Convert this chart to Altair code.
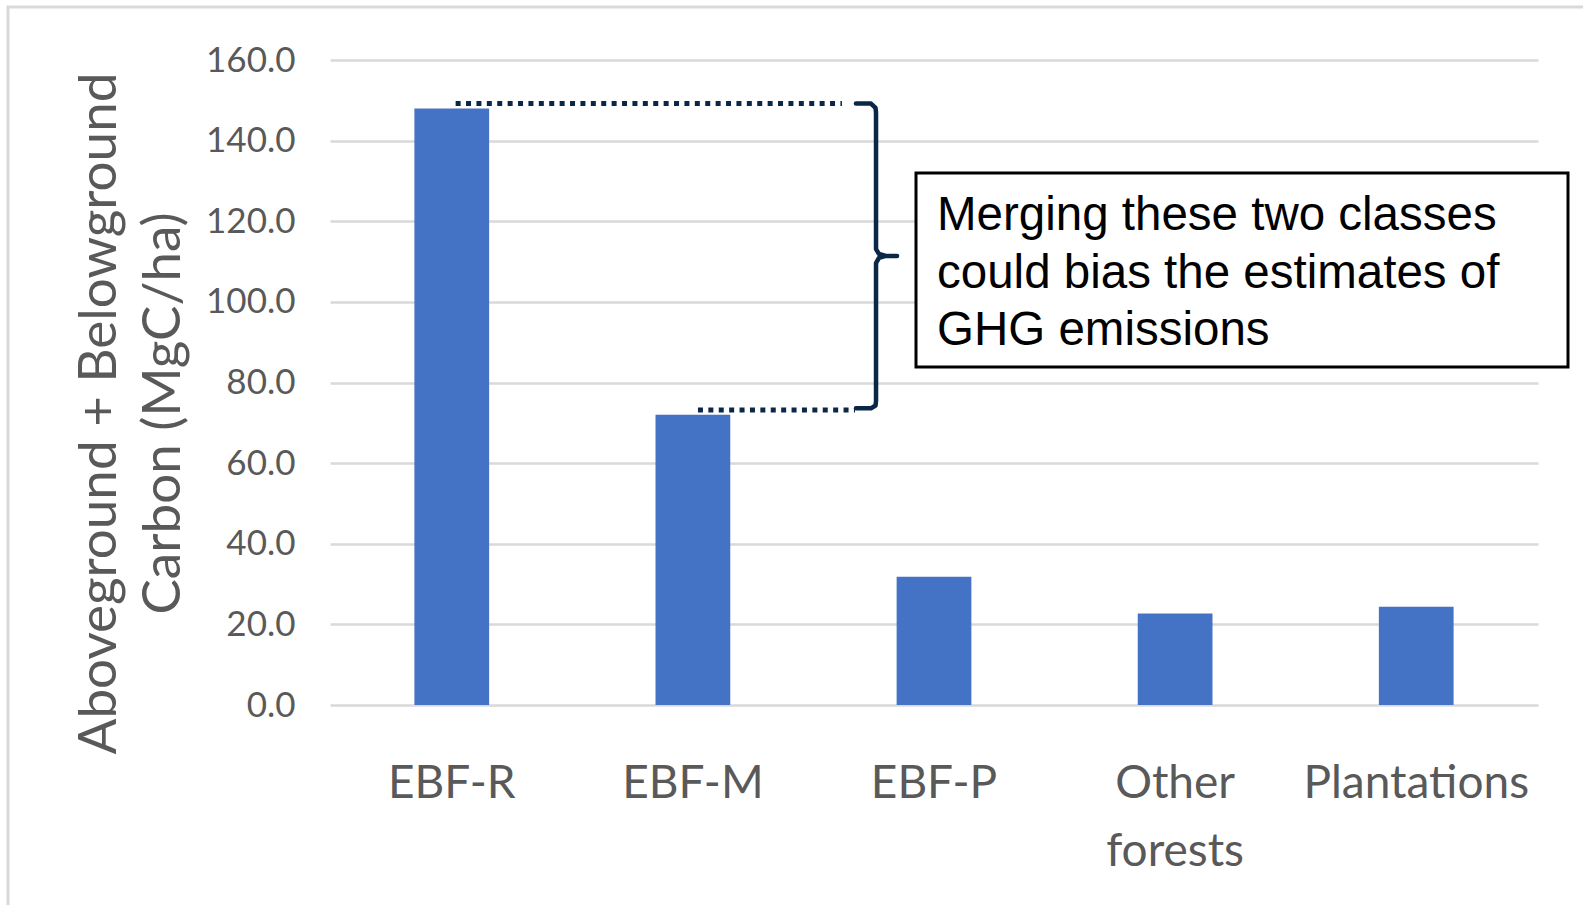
import altair as alt
import pandas as pd

# Forest classes and their aboveground + belowground carbon stocks (MgC/ha)
categories = ["EBF-R", "EBF-M", "EBF-P", "Other forests", "Plantations"]
carbon = [148.0, 72.0, 31.8, 22.7, 24.4]

y_ticks = [0, 20, 40, 60, 80, 100, 120, 140, 160]

# Annotation geometry in data units (x = category index space, 0..5; y = MgC/ha)
dotted_group = ["top", "top", "bottom", "bottom"]
dotted_x = [0.52, 2.119, 1.523, 2.173]
dotted_y = [149.2, 149.2, 73.2, 73.2]

brace_x = [2.177, 2.239, 2.258, 2.260, 2.260, 2.272, 2.301, 2.347,
           2.301, 2.272, 2.260, 2.260, 2.258, 2.239, 2.177]
brace_y = [149.2, 149.2, 148.1, 146.9, 113.1, 111.9, 111.4, 111.4,
           111.4, 110.9, 109.6, 75.4, 74.3, 73.6, 73.6]

note_lines = ["Merging these two classes",
              "could bias the estimates of",
              "GHG emissions"]

W, H = 1208, 645
NAVY = "#0b2748"
GRID = "#d9d9d9"
LABEL = "#595959"

bars_df = pd.DataFrame({"cls": categories, "carbon": carbon})
dots_df = pd.DataFrame({"g": dotted_group, "xi": dotted_x, "y": dotted_y})
brace_df = pd.DataFrame({"order": list(range(len(brace_x))), "xi": brace_x, "y": brace_y})

y_scale = alt.Scale(domain=[0, 160], nice=False, zero=True)
xi_scale = alt.Scale(domain=[0, 5], nice=False, zero=False)

bars = alt.Chart(bars_df).mark_bar(color="#4472c4").encode(
    x=alt.X(
        "cls:N",
        sort=categories,
        scale=alt.Scale(paddingInner=0.69, paddingOuter=0.35),
        axis=alt.Axis(
            title=None,
            labelAngle=0,
            labelFont="Lato",
            labelFontSize=46,
            labelColor=LABEL,
            labelBaseline="alphabetic",
            labelPadding=92,
            labelLineHeight=68,
            labelLimit=0,
            labelExpr="datum.label == 'Other forests' ? ['Other', 'forests'] : datum.label",
            ticks=False,
            tickSize=0,
            domain=False,
            grid=False,
        ),
    ),
    y=alt.Y(
        "carbon:Q",
        scale=y_scale,
        axis=alt.Axis(
            values=y_ticks,
            format=".1f",
            title=["Aboveground + Belowground", "Carbon  (MgC/ha)"],
            titleFont="Lato",
            titleFontSize=53,
            titleFontWeight="normal",
            titleColor=LABEL,
            titleAngle=270,
            titleAlign="center",
            titleBaseline="middle",
            titleLineHeight=64,
            titleX=-231,
            titleY=353,
            titleLimit=0,
            labelFont="Lato",
            labelFontSize=35,
            labelColor=LABEL,
            labelPadding=35,
            ticks=False,
            tickSize=0,
            domain=False,
            grid=True,
            gridColor=GRID,
            gridWidth=2.5,
        ),
    ),
)

dots = alt.Chart(dots_df).mark_line(
    color=NAVY, strokeWidth=5, strokeDash=[5, 5.4], strokeCap="butt"
).encode(
    x=alt.X("xi:Q", scale=xi_scale, axis=None),
    y=alt.Y("y:Q", scale=y_scale),
    detail="g:N",
)

brace = alt.Chart(brace_df).mark_line(
    color=NAVY, strokeWidth=4.5, strokeJoin="round", strokeCap="round"
).encode(
    x=alt.X("xi:Q", scale=xi_scale, axis=None),
    y=alt.Y("y:Q", scale=y_scale),
    order="order:Q",
)

one_row = alt.Data(values=[{"k": 1}])

frame = alt.Chart(one_row).mark_rect(
    fillOpacity=0, stroke=GRID, strokeWidth=3
).encode(
    x=alt.value(-322), x2=alt.value(1263),
    y=alt.value(-53), y2=alt.value(855),
)

note_box = alt.Chart(one_row).mark_rect(
    fill="white", stroke="black", strokeWidth=3
).encode(
    x=alt.value(586), x2=alt.value(1238),
    y=alt.value(113), y2=alt.value(307),
)

note_text = alt.Chart(one_row).mark_text(
    align="left",
    baseline="alphabetic",
    font="Liberation Sans",
    fontSize=47.5,
    lineHeight=57.5,
    color="black",
).encode(
    x=alt.value(607),
    y=alt.value(170),
    text=alt.value(note_lines),
)

chart = alt.layer(frame, bars, dots, brace, note_box, note_text).resolve_scale(
    x="independent"
).properties(
    width=W,
    height=H,
    padding={"left": 330, "top": 60, "right": 45, "bottom": 200},
    autosize=alt.AutoSizeParams(type="none"),
    background="white",
).configure_view(stroke=None)

chart.save("out.html", embed_options={"renderer": "svg", "actions": False})
